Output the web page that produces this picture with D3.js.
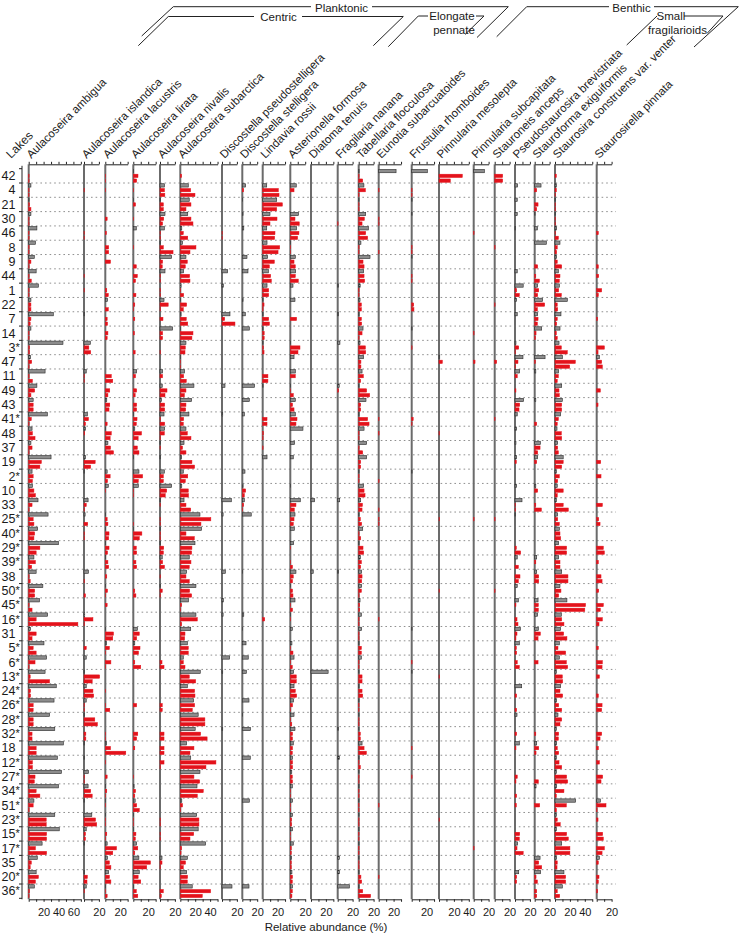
<!DOCTYPE html>
<html><head><meta charset="utf-8">
<script src="https://cdn.jsdelivr.net/npm/d3@7"></script>
<style>
html,body{margin:0;padding:0;background:#fff;overflow:hidden}
svg text{font-family:"Liberation Sans",Arial,Helvetica,sans-serif;fill:#1a1a1a}
</style>
</head><body>
<svg id="c" width="743" height="934"></svg>
<script>
// ---------------- DATA ----------------
const lakes = ["42","4","21","30","46","8","9","44","1","22","7","14","3*","47","11","49","43","41*","48","37",
  "19","2*","10","33","25*","40*","29*","39*","38","50*","45*","16*","31","5*","6*","13*","24*","26*","28*","32*",
  "18","12*","27*","34*","51*","23*","15*","17*","35","20*","36*"];
const taxa = ["Aulacoseira ambigua","Aulacoseira islandica","Aulacoseira lacustris","Aulacoseira lirata",
  "Aulacoseira nivalis","Aulacoseira subarctica","Discostella pseudostelligera","Discostella stelligera",
  "Lindavia rossii","Asterionella formosa","Diatoma tenuis","Fragilaria nanana","Tabellaria flocculosa",
  "Eunotia subarcuatoides","Frustulia rhomboides","Pinnularia mesolepta","Pinnularia subcapitata",
  "Stauroneis anceps","Pseudostaurosira brevistriata","Stauroforma exiguiformis",
  "Staurosira construens var. venter","Staurosirella pinnata"];
// axis maximum (%) of each taxon panel
const axisMax = [70,20,30,30,20,50,20,20,30,20,30,20,20,30,30,40,20,20,20,20,50,20];
// sample kinds inside each lake: first = grey bar, then two red bars
const sampleKinds = ["grey","red","red"];

// values: 51 lakes x 3 samples, lake order as in `lakes`
const aulAmbigua = [0,0.5,0.5, 3,0.5,0.5, 0.5,1,3, 3,0.5,0.5, 11,0.5,0.5, 9,0.5,0.5, 7.5,3,0.5, 10,0.5,3.5, 13,0.5,0.5, 3,3,3,
 33,3,2, 3,0.5,0.5, 46,1,1, 2.5,4,0.5, 22,0.5,5, 11,8,3, 6,6,6, 25,3.5,0.5, 4.5,5,8.5, 3,4.5,0.5,
 30,17,15, 4.5,6,5, 5,7,9, 12.5,4.5,0.5, 26,6,7, 12,8,7, 40,15,10, 7,9,4, 10,0.5,2, 19,8,8,
 14.5,0.5,4.5, 25.5,10,66, 2.5,10,4.5, 20.5,6,10, 24,8.5,0.5, 22,2,28, 37,2.5,2.5, 34,6,6, 28,6,6, 35,4.5,4.5,
 46.5,10,10, 38.5,5,5, 44,8.5,7.5, 40,10,15, 7,6,0.5, 35,23.5,23.5, 41,24,24, 18,9,24, 11.5,3.5,2, 10,13,9,
 7.5,1,0.5];
const aulIslandica = [0,0,0, 0,0.3,0, 0,0,0, 0,0,0, 0,0.3,0.3, 0,0,0, 0,0,0, 0,0.3,0, 0,0.3,0, 0,0,0,
 0.5,0,0, 0,0,0, 8.5,6.5,9, 0,0,0, 3,0.3,0.3, 0,0,0, 0,0,0, 4.5,6,2, 2,1,0, 0,0,0,
 2,15,9, 0.5,0,0, 0,0,0, 5.5,3,0.5, 1.5,0,5, 0,0.5,0.5, 0,0,0, 0,0,0, 6,0,0.5, 0,0,2,
 0,0,0, 1,12,0.5, 0,0,0, 0,3,0, 3,0,0, 0.5,21,11, 3,12,13, 3,0.5,0.5, 0.5,14.5,18, 0,2.5,2.5,
 0.5,0,0, 0.5,0,0, 6,0.5,0.5, 5.5,9,11, 0.5,0,0, 10.5,15.5,17, 3,2,2, 0.5,0,0, 0,0,0, 0.5,4.5,4,
 3,0.5,0];
const aulLacustris = [0,0.5,0.5, 0,0.5,0, 0,0,0, 0,2.5,0, 0,1.5,0, 0,4.5,4.5, 0,7,0, 0,0,0, 0,2,4, 3,0,4,
 0,2.5,3, 0,3.5,2.5, 0,0,0, 0,0,0, 0,8,10, 0,6,3.5, 2,6,5, 0,0,2.5, 0.5,8,6.5, 3.5,7,11,
 0,0,0, 2.5,6.5,3, 4,0.5,0, 0,0,0, 0.5,2.5,3.5, 0.5,5,4.5, 0.5,5,3, 0.5,3.5,4.5, 0,2,0, 0.5,3,0.5,
 0,2.5,0, 0,0,0, 0.5,11,10, 1.5,5.5,0.5, 0,7.5,0.5, 0,0,0, 0,0.5,0, 0,0.5,6, 0,0,0, 0,0.5,0.5,
 1.5,7,27.5, 0,0.5,0, 0,2.5,0, 0.5,2,0.5, 0.5,0.5,0, 0.5,0.5,0.5, 0,2,0.5, 2.5,15,10, 3,5.5,7.5, 4.5,5.5,7.5,
 0.5,0.5,2.5];
const aulLirata = [0.5,6.3,4.5, 0,0.5,0, 0.5,3,0, 0,0.5,0, 4,0,0, 0,0.5,0, 0,0,4, 0,5.4,3, 0,0,3.5, 0,2,0.5,
 0,2,0, 0,1.5,0, 0,0,2.5, 0,0,0, 4.5,3,0, 0,4.5,2.5, 0,4.5,4.5, 0.5,5,4, 2,11,6.5, 0,5.4,7.6,
 0.5,0,0, 7.6,12.5,6.7, 6.7,0.5,0.5, 0,0,0, 0,0,0.5, 0.5,11.5,8, 0,4,4.5, 0,3.5,4.5, 0,0,0, 0,2,3.5,
 0,0,0, 0,0,0, 5.4,8,4.5, 2,9,7, 0,2,10, 0,0,0, 0,0,0, 0,4.5,0, 0,0,0, 0,6,4.5,
 0,2,0, 0,0,0, 0,0.5,0, 1,3,2, 2.5,4.5,8, 0.5,0.5,0.5, 0.5,3.5,2.7, 4.5,6,2, 7.5,23,18, 8,6.5,10,
 0.5,4,6];
const aulNivalis = [0,0,0, 6,6,6.5, 0.5,4.5,4.5, 6.7,5,3.5, 5.8,0.5,0.5, 0.5,4.5,17.5, 15.6,3.5,3, 6.7,0.5,0.5, 0,0.5,0.5, 5.4,11,0.5,
 0,4,0, 17,3.5,3.5, 0,0,0.5, 0,0,0, 3.5,3.5,0, 3,9.4,6.7, 2,6.3,6.3, 5.4,0.5,6.3, 6.3,5.8,0.5, 0.5,0.5,0,
 0.5,0,0, 5.8,4.5,4.5, 15.6,9,7, 0.5,0.5,0, 0,0.5,0.5, 0.5,0.5,0.5, 0.5,5,4.5, 3,3.5,6, 0,0.5,0, 0.5,3,0.5,
 0,0,0, 0,0,0, 0,0,0, 0,0,0, 0,2.7,5.4, 0,0,0, 0,0,0, 0,3,3, 0,0,0, 0,5.4,5.4,
 0,5.4,5.4, 0,5.4,0.5, 0,0,0, 0,0,0, 0,0,0, 0,0.5,0.5, 0,0.5,0.5, 0,0,0, 2.7,2.7,0.5, 0,0,0,
 0,4.4,1.8];
const aulSubarctica = [0,1.8,0, 10.7,13.9,19.7, 12,14.3,7.6, 10,14.3,17, 2,4,10, 3,21,13, 7.6,9.4,6.7, 4.5,12.5,13, 1,0.5,4.5, 0.5,8.5,4,
 1,8,10, 0.5,17,15.6, 7.6,6.7,6.3, 0.5,0.5,0.5, 5.8,4.5,8, 18.3,7.6,5.4, 15.2,7.6,7.2, 11.6,4.5,4, 7.6,9.4,14.3, 5,3,7.6,
 1.8,15.6,19.2, 4,10,6.7, 2,10.7,11, 5,7.6,14, 26.4,41,27.7, 28.6,7.6,18.8, 19.7,15.6,15.2, 12,14.3,12, 8.5,7.6,12, 21,12.5,15.2,
 11,1.8,0.5, 21,22.8,1.8, 14,6.3,5.8, 9.4,10.7,10.7, 4,4,6.3, 26.8,12,20.6, 9.4,19.2,19.7, 17.9,19.2,16.1, 24,33,33, 20,27.3,36,
 8.5,18.3,13, 14,47.8,34.4, 26.4,18.3,26, 22.4,30.8,22.8, 2,3,0.5, 22,25,25, 24,18,13, 34,1.8,1, 9.4,7,4, 8.5,9.8,9.4,
 16,40.7,29.5];
const disPseudostelligera = [0,0,0, 0,0,0, 0,0,0, 0,0,0, 0,0.3,0.3, 0,0,0, 0,0,0, 7.6,0,0, 1.8,0,0, 0,0,0,
 10.7,3.6,17.4, 0,0,0, 0,0,0, 0,0,0, 0,0,0, 4,0,0, 0,0,0, 1,0,0, 0,0,0, 0,0,0,
 0,0,0, 0,0,0, 0,0,0, 12.5,0,0, 1.5,0,0, 0,0,0, 0,0,0, 0,0,0, 4.5,0,0, 0,0,0,
 1.8,0,0, 1.5,0,0, 0,0,0, 0,0,0, 10.3,0,0, 1,0,0, 0,0,0, 0,0,0, 0,0,0, 1,0,0,
 0,0,0, 0,0,0, 0,0,0, 0,0,0, 0,0,0, 0,0,0, 0,0,0, 0,0,0, 0,0,0, 0,0,0,
 13.4,0,0];
const disStelligera = [0,0,0, 4.5,1.8,0, 0.5,0,0, 1,0,0, 2,0,0, 0,0,0, 6.3,0,0, 7.6,0,0, 0,0,0, 1,0,0,
 4,0,0, 9.4,0,0, 0,0,0, 0,0,0, 0,0,0, 16.5,0,0, 9.4,0,0, 2.7,0,0, 0,0,0, 0,0,0,
 0,0,0, 3.6,0,0, 1,4.5,2.7, 2.7,1.8,0.5, 12,0,0, 0,0,0, 0,0,0, 0,0,0, 0.5,0,0, 0,0,0,
 0,0,0, 2,0,0, 0.5,0,0, 5,0,0, 8,0,0, 5.4,0,0, 0,0,0, 9,0,0, 0.5,0,0, 11,0,0,
 0,0,0, 10.7,0,0, 0,0,0, 0,0,0, 9.4,0,0, 0,0,0, 0,0,0, 0,0,0, 0,0,0, 0,0,0,
 9,0,0];
const linRossii = [0,0,0, 5.4,21,21.9, 18.8,26.4,18.8, 9.8,19.2,9.8, 5.4,16.5,16, 5.8,22.8,20.6, 6.7,15.6,9, 7.6,10.7,11.6, 5.8,8,8, 0.5,1.8,0.5,
 0.5,8,9, 0.5,2,2, 0.5,1,1.8, 0,0,0, 0,7,7, 0.5,0,0, 0,0,0, 0,5.8,5.8, 0,1,0.5, 0,0.5,0,
 5.8,0,0, 0,0,0, 0,0,0, 0,0,0, 0,0,0, 0,0,0, 0,0,0, 0,0,0, 0,0,0, 0,0,0,
 0,0,0, 0,2.7,0, 0,0,0, 0,0,0, 0,0,0, 0,0,0, 0,0,0, 0,0,0, 0,0,0, 0,0,0,
 0,0,0, 0,0,0, 0,0,0, 0,0,0, 0,0,0, 0,0,0, 0,0,0, 0,0,0, 0,0,0, 0,0,0,
 0,0,0];
const astFormosa = [0,0,0, 8,5,0, 0,0,0, 11,6.3,12, 8.5,11.6,9.8, 0.5,0.5,0.5, 6.7,5,6.7, 7.2,6.7,10.7, 3.6,0,0, 6.3,0,0,
 0,8.5,0, 0,0,0, 0.5,13,10.3, 5,0,0, 6.7,6.7,0, 0.5,0.5,4, 6.7,3,5, 6.7,9,7.6, 17,0,0, 5.8,0,0,
 4,0,0, 0,0,0, 0.5,0,0, 13.4,7.6,5.4, 6.3,5,4, 5.4,0,0, 4.5,0.5,0, 0,0.5,3, 7.6,4,3, 0.5,3,3.6,
 6.3,0.5,3, 0.5,0.5,0, 2.7,0,0, 2.2,0.5,3.6, 5,0.5,2.7, 4.5,8,8, 5,6.7,8.5, 4.5,3,0.5, 5,0.5,2, 6.3,3,3,
 4,3,2.7, 3,3,3, 2,2.7,3, 2.7,0.5,0.5, 3,0.5,0.5, 3,1.8,1.8, 3,0.5,0.5, 4,1.3,1.3, 1.8,1.3,1.3, 2.2,3,2.7,
 3,2.7,2.2];
const diaTenuis = [0,0,0, 0,0,0, 0,0,0, 0,0,0, 0,0,0, 0,0,0, 0,0,0, 0,0,0, 0,0,0, 0,0,0,
 0,0,0, 0,0,0, 0,0,0, 0,0,0, 0,0,0, 0,0,0, 0,0,0, 0,0,0, 0,0,0, 0,0,0,
 0,0,0, 0,0,0, 0,0,0, 4.9,0,0, 0,0,0, 0,0,0, 0,0,0, 0,0,0, 3,0,0, 0,0,0,
 0,0,0, 0,0,0, 0,0,0, 0,0,0, 0,0,0, 23,0,0, 0,0,0, 0,0,0, 0,0,0, 0,0,0,
 0,0,0, 0,0,0, 0,0,0, 0,0,0, 0,0,0, 0,0,0, 0,0,0, 0,0,0, 0,0,0, 0,0,0,
 0,0,0];
const fraNanana = [0,0,0, 0,0,0, 0,0,0, 0,0,0.5, 0,0,0, 0,0,0, 0,0,0, 0,0,0, 1.3,0,0, 0,0,0,
 1.3,0,0, 0,0,0, 3,0,0, 0,0,0, 0,0,0, 2,1.3,0, 0,0,0, 0,0,0, 0,0,0, 0,0,0,
 0,0,0, 0,0,0, 0,0,0, 2.7,0,0, 0,0,0, 0,0,0, 0,0,0, 0,0,0, 1.3,0,0, 0,0,0,
 0,0,0, 0,0,0, 0,0,0, 0,0,0, 0,0,0, 0,0,0, 0,0,0, 0,0,0, 0,0,0, 1.3,0,0,
 0,0,0, 2.2,0,0, 0,0,0, 0,0,0, 0,0,0, 0,0,0, 0,0,0, 0,0,0, 2.2,0,0, 2.2,0,0,
 15.7,0,0];
const tabFlocculosa = [0.5,0.5,5.4, 7,9,0.5, 0.5,0.5,0.5, 9.4,7.6,4.5, 13,9.4,12, 3,0.5,0.5, 15.2,5.8,7.2, 6.7,7.2,8, 2,0.5,0.5, 1.8,3.6,3.6,
 0.5,3.6,4, 5.8,4.5,0.5, 1.8,9,9.4, 6.7,3,3, 4.5,6.3,2.7, 0.5,10.7,14.7, 9.8,2.7,2.7, 0.5,12,13.9, 7.2,0.5,0.5, 10.7,0.5,5.4,
 10.7,2.7,2.7, 0.5,0.5,0.5, 6.7,7.2,8.5, 2.7,5,4.5, 0.5,2.2,4, 5.4,0.5,2.7, 0.5,5.8,6.7, 2.2,3.6,2.7, 4,4.5,4, 4,3.6,0.5,
 1.8,1.3,1.3, 3.6,0.5,0.5, 4,0.5,0.5, 0.5,3.6,3.6, 3.6,0.5,0.5, 0.5,4.5,4.5, 0.5,4.5,5.4, 0.5,0.5,0.5, 0.5,0.5,0.5, 0.5,2.2,2.2,
 4.5,7.2,10.3, 0.5,0.5,2.2, 0.5,0.5,0.5, 0.5,0.5,0.5, 0.5,0.5,0.5, 0.5,0.5,0.5, 0.5,0.5,0.5, 0.5,0.5,0.5, 0.5,0.5,0.5, 0.5,3,4,
 0.5,5.4,16];
const eunSubarcuatoides = [23.3,0,0, 0,0.5,0, 0,0,0, 0,0.5,0.5, 0,0,0, 0,0,0.5, 0,0,0, 0,0,0, 0,0,0, 0,0,0,
 0,0,0, 0,0,0, 0,0,0, 0,0,0, 0,0,0, 0,0,0, 0,0,0, 0,0.5,0, 0,0.5,0, 0,0,0,
 0,0,0, 0,0,0.5, 0,0,0, 0,0,0.5, 0,0.5,0.5, 0,0,0, 0,0,0, 0,0,0, 0,0,0, 0,0,0,
 0,0,0, 0,0.5,0, 0,0,0, 0,0,0, 0,0,0, 0,0,0, 0,0,0, 0,0,0, 0,0,0, 0,0,0,
 0,0,0, 0,0,0, 0,0,0, 0,0,0, 0,0.5,0, 0,0,0, 0,0,0, 0,0,0, 0,0,0, 0,0.5,0,
 0,0,0];
const fruRhomboides = [21,0,0, 0,0.5,0.5, 0.5,0,0, 0.5,0,0, 0,0,0, 0,0.5,0.5, 0.5,0,0, 0,0.5,0.5, 0,0,0, 0,2.7,3,
 0,0,0, 0.5,0,0, 0,0.5,0, 0,0,0, 0,0,0, 0,0,0, 0,0,0, 0,2,0.5, 0,0,0, 0,0,0,
 0,0,0, 0.5,0,0, 0,0,0, 0,0,0, 0,0,0, 0,0,0, 0,0,0, 0,0,0, 0,0,0, 0,0,0,
 0,0,0, 0,0,0, 0.5,0,0, 0,0,0, 0,0.5,0, 0.5,0,0, 0,0,0, 0,0,0, 0,0,0, 0,0,0,
 0,0.5,0, 0,0,0, 0,0.5,0, 0,0,0, 0,0,0, 0,0,0, 0,0,0, 0,0,0, 0,0,0, 0,0,0,
 0,0,0];
const pinMesolepta = [0,31.3,15.2, 0,0,0, 0,0,0, 0,0,0, 0,0,0, 0,0,0, 0,0,0, 0,0,0, 0,0,0, 0,0,0,
 0,0,0, 0,0,0, 0,0,0, 1,4.5,0, 0,0,0, 0,0,0, 0,0,0, 0,0,0, 0,0.5,0, 0,0,0,
 0,0,0, 0,0,0, 0,0,0, 0,0,0, 0,0.5,0, 0,0,0, 0,0,0, 0,0,0, 0,0,0, 0,0.5,0,
 0,0,0, 0,0,0, 0,0,0, 0,0,0, 0,0,0, 0,0.5,0, 0,0,0, 0,0,0, 0,0,0, 0,0,0,
 0,0,0, 0,0,0, 0,0,0, 0,0,0, 0,0,0, 0,0.5,0, 0,0,0, 0,0,0, 0,0,0, 0,0,0,
 0,0,0];
const pinSubcapitata = [14.3,0,0, 0,0,0, 0,0,0, 0,0,0, 0,0.5,0, 0,0,0, 0,0,0, 0,0,0, 0,0,0, 0,0,0,
 0,0,0, 0,0.5,0, 0,0,0, 0,1.8,0, 0,0,0, 0,0,0, 0,0,0, 0,0,0, 0,0,0, 0,0,0,
 0,0,0, 0,0,0, 0,0,0, 0,0,0, 0,0.5,0, 0,0,0, 0,0,0, 0,0,0, 0,0,0, 0,0,0,
 0,0,0, 0,0,0, 0,0,0, 0,0,0, 0,0,0, 0,0,0, 0,0,0, 0,0,0, 0,0,0, 0,0,0,
 0,0,0, 0,0,0, 0,0,0, 0,0,0, 0,0,0, 0,0,0, 0,0,0, 0,0.5,0, 0,0,0, 0,0,0,
 0,0,0];
const stanAnceps = [0,10.7,10.7, 0,0,0, 0,0,0, 0,0,0, 0,0,0, 0,0.5,0, 0,0,0, 0,0,0, 0,0,0, 0,0.5,0,
 0,0,0, 0,0,0, 0,0,0, 0,2.7,0, 0,0,0, 0,0,0, 0,0,0, 0,0.5,0, 0,0,0, 0,0,0,
 0,0,0, 0,0,0, 0,0,0, 0,0,0, 0,0.5,0, 0,0,0, 0,0,0, 0,0,0, 0,0,0, 0,0.5,0,
 0,0,0, 0,0,0, 0,0,0, 0,0,0, 0,0,0, 0,0,0, 0,0,0, 0,0,0, 0,0,0, 0,0,0,
 0,0,0, 0,0,0, 0,0,0, 0,0,0, 0,0,0, 0,0,0, 0,0,0, 0,0,0, 0,0,0, 0,0,0,
 0,0,0];
const psBrevistriata = [0,0,0, 3.6,0,0, 3,0,0, 3,0,0, 0.5,0,0, 0,0,0, 0,0,0, 3,0,0, 11,2.2,5.8, 2.2,0,0,
 3,0,0, 0,0,0, 1.3,5,0.5, 10.7,4,0.5, 6.3,3,0, 0,1.3,0, 11.6,6.3,5.4, 3,0,0, 2.2,0,0, 1.3,0,0,
 2.2,1.8,0, 0,0,0, 2.2,0,0, 9.4,0.5,0.5, 0.5,0,0, 0,0,0, 0,1.8,7.6, 3,0,4.5, 0,6.7,4.5, 3,0,0,
 4.5,1.3,0, 0,2.7,4, 7.2,2.7,1.3, 5.8,1.8,2.2, 0,3,5.8, 0,0,0, 9,0,2.2, 0,0,2.2, 2.7,0,0, 0,2.2,0,
 5.8,1.3,0, 0,0,0, 0,3,1.3, 0,0,2.2, 0,1.8,0, 0,0,0, 0,6.3,5.8, 3.6,2.7,11, 0,0,0, 5,2.2,2.2,
 0,0,0];
const stExiguiformis = [0,0,0, 8.5,2.7,0, 0,4.5,2.7, 0.5,0,0, 3.6,0,0, 15.6,0,0, 0,0,4, 0,1.5,6.3, 4,5.4,4, 10.7,13.4,3.6,
 4,4.5,3.6, 9.4,1.8,1, 0,0,0, 13.9,1,0, 1.5,0,0, 0,0,0, 1.5,0,0, 0,0,2.7, 0,0,0, 7.6,7.2,4,
 4,2.7,0, 0,0,0, 1.5,4,0, 0,1.5,9, 0,0,0, 0,0,0, 0,0,0, 2.7,1.5,0, 2.7,5.4,5.4, 0,0,0,
 4.5,4.9,4.9, 4,0,0, 4.9,7.6,4.5, 0,0,0, 0,4.5,0, 0,0,0, 0,0,0, 0,0,0, 0,0,0, 0,1.5,0,
 2.7,5.4,1.8, 0,0,0, 0,0,4.9, 1.8,0,0, 0,6.7,0, 0,0,0, 0,0,0, 0,0,0, 7.2,5.4,9.4, 8,1.8,3.6,
 0,2.7,2.7];
const stConstruens = [0,1.8,0, 1.8,1.8,0.5, 0.5,0.5,0.5, 0.5,0.5,0.5, 2.2,0.5,4.5, 6.7,3,2.2, 2.2,3,9, 4.5,6.7,5.8, 5.8,4.9,8.5, 16.5,3,3.6,
 8,3,2.2, 6.7,1.8,3, 5.4,8.5,16.5, 10,27.3,19.7, 4.9,4.5,3, 9,5.4,5.8, 9.8,9,9, 7.6,4.5,3, 2.7,8.5,9, 3.6,3.6,4.5,
 11,11,9, 1.8,5.8,3.6, 3,11,3, 1.8,11,17.9, 3.6,3.6,5.8, 5.8,6.7,7.6, 4.9,15.6,15.6, 4.9,6.7,6.7, 9,17.4,17.4, 6.7,8,4.9,
 16,41,40, 8.5,9,12, 7.6,11.6,16, 5.8,4,14.3, 5.8,15.2,17, 1.8,9.8,10.3, 7.6,6.7,10.3, 2.2,4.9,9, 4,9,6.7, 1.8,4.9,4.5,
 2.2,3,4.9, 1.8,5.4,9, 1.8,15.6,17, 2.2,12,1.8, 27.7,15.2,2, 1.8,3,7, 1.8,15.6,17.9, 9,20,20, 2.2,3,2.7, 12,14.3,14.3,
 9.8,3,6.3];
const stPinnata = [0,0,0, 0,0,0, 0,0,0, 0,0,0, 0,2.2,0, 0,0,0, 0,0,2.2, 0,2.7,0, 0,6.7,2.2, 0,0,0,
 0,1.3,0, 0,0,0, 0,10.3,1.8, 3.6,6.7,7.6, 0,0,0, 0,4.9,0, 0,1.8,0, 0,0,0, 0,0,0, 0,0,0,
 0,5.4,0, 0,5.8,0, 0,0,0, 0,7.6,0, 0,2.7,4.5, 0,0,0, 0,8.9,10.3, 0,2.2,0, 0,5.8,7.2, 0,2.7,0,
 0,8.9,4.9, 0,7.6,3.1, 0,0,0, 0,2.2,0, 0,7.6,7.2, 0,3.6,0, 0,0,2.2, 0,7.2,6.7, 0,0,0, 0,6.7,4.5,
 0,2.2,0, 0,3.6,0, 0,8,5.8, 0,0,0, 4.9,12.5,0.5, 0,1.8,0, 0,8,8.9, 0,10.3,7.2, 3.6,2.2,0, 0,3.1,2.2,
 0,1.3,0];

const values = [aulAmbigua, aulIslandica, aulLacustris, aulLirata, aulNivalis, aulSubarctica,
  disPseudostelligera, disStelligera, linRossii, astFormosa, diaTenuis, fraNanana, tabFlocculosa,
  eunSubarcuatoides, fruRhomboides, pinMesolepta, pinSubcapitata, stanAnceps, psBrevistriata,
  stExiguiformis, stConstruens, stPinnata];

// group headers
const groups = [
  {lines:["Planktonic"], pos:[[341.5,11.5]], paths:[[[141.7,36],[173.3,6.7],[311,6.7]],[[372,6.7],[508.3,6.7],[477,37.5]]]},
  {lines:["Centric"], pos:[[278.5,21]], paths:[[[138.3,45.7],[168.3,16.5],[254,16.5]],[[302,16.5],[403.3,16.5],[373.3,45.7]]]},
  {lines:["Elongate","pennate"], pos:[[452,20],[454,33.5]], paths:[[[388.3,46.7],[418.3,16],[428,16]],[[476,16],[484,16],[465,34.5]]]},
  {lines:["Benthic"], pos:[[631.5,11.5]], paths:[[[496.7,36.7],[526.7,6.7],[609,6.7]],[[654,6.7],[738.3,6.7],[694,47]]]},
  {lines:["Small","fragilarioids"], pos:[[671,20],[677.5,33.5]], paths:[[[626.7,45],[657,16]],[[684,16],[723,16],[707,33.5]]]}
];

// ---------------- LAYOUT ----------------
const k = 0.745;                 // px per percent
const panelLeft = [28.7,84,105.3,133.3,160,180.3,222,242.3,262.7,290.3,311,337.7,358.7,378.7,411.7,439,473.7,494.7,515,534.7,555,596.7];
const yTopAxis = 164.3, yBotAxis = 899.3;
const plotTop = 168.7, plotBottom = 168.7 + 51*14.306;

const svg = d3.select("#c");
const y = d3.scaleBand().domain(d3.range(lakes.length)).range([plotTop, plotBottom]);
const ySub = d3.scaleBand().domain([0,1,2]).range([0, y.bandwidth()]).paddingInner(0.3).paddingOuter(0.15);

// dotted separators
svg.append("g").selectAll("line").data(d3.range(1, lakes.length)).join("line")
  .attr("x1", 22).attr("x2", 616)
  .attr("y1", i => y(i)).attr("y2", i => y(i))
  .attr("stroke", "#8f8f8f").attr("stroke-width", 1).attr("stroke-dasharray", "1.6,3");

// lakes axis
const la = svg.append("g");
la.append("line").attr("x1",22).attr("x2",22).attr("y1",yTopAxis+1.5).attr("y2",yBotAxis)
  .attr("stroke","#222").attr("stroke-width",1);
la.selectAll("line.t").data(d3.range(0, lakes.length+1)).join("line").attr("class","t")
  .attr("x1",19).attr("x2",22)
  .attr("y1", i => i < lakes.length ? y(i) : plotBottom).attr("y2", i => i < lakes.length ? y(i) : plotBottom)
  .attr("stroke","#222").attr("stroke-width",1);
// lake number right-aligned, asterisk hanging to the right
la.selectAll("text.n").data(lakes).join("text").attr("class","n")
  .attr("x",15.5).attr("y",(d,i)=>y(i)+y.bandwidth()/2+4.3)
  .attr("text-anchor","end").attr("font-size","12.5px").text(d=>d.replace("*",""));
la.selectAll("text.s").data(lakes.map((d,i)=>({d,i})).filter(o=>o.d.includes("*"))).join("text").attr("class","s")
  .attr("x",15.6).attr("y",o=>y(o.i)+y.bandwidth()/2+3.3)
  .attr("font-size","11px").text("*");
svg.append("text").attr("transform","translate(11,159) rotate(-45)")
  .attr("font-size","12px").text("Lakes");

// panels
taxa.forEach((name, p) => {
  const x0 = panelLeft[p];
  const x = d3.scaleLinear().domain([0, axisMax[p]]).range([x0, x0 + axisMax[p]*k]);
  const g = svg.append("g");
  g.append("line").attr("x1",x0).attr("x2",x0).attr("y1",yTopAxis).attr("y2",yBotAxis)
    .attr("stroke","#6b6b6b").attr("stroke-width",2);
  const rows = values[p].map((v,j)=>({v, lake: Math.floor(j/3), s: j%3})).filter(d=>d.v>0);
  g.selectAll("rect").data(rows).join("rect")
    .attr("x", x(0))
    .attr("y", d => y(d.lake) + ySub(d.s))
    .attr("width", d => x(d.v) - x(0))
    .attr("height", ySub.bandwidth())
    .attr("fill", d => sampleKinds[d.s] === "grey" ? "#8c8c8c" : "#e4121b")
    .attr("stroke", d => sampleKinds[d.s] === "grey" ? "#2a2a2a" : "#e4121b")
    .attr("stroke-width", d => sampleKinds[d.s] === "grey" ? 0.6 : 0.5);
  const ticks = d3.range(0, axisMax[p] + 0.001, 10);
  const top = g.append("g").attr("transform",`translate(0,${yTopAxis})`)
    .call(d3.axisTop(x).tickValues(ticks).tickSize(2.5).tickSizeOuter(0).tickFormat(""));
  const bot = g.append("g").attr("transform",`translate(0,${yBotAxis})`)
    .call(d3.axisBottom(x).tickValues(ticks).tickSize(2.5).tickSizeOuter(0).tickPadding(6.5)
      .tickFormat(d => (d > 0 && d % 20 === 0) ? d : ""));
  [top, bot].forEach(a => {
    a.select(".domain").attr("stroke","#222").attr("stroke-width",1);
    a.selectAll(".tick line").attr("stroke","#222");
    a.selectAll("text").attr("font-size","11px").attr("font-family","'Liberation Sans',Arial,sans-serif").attr("fill","#1a1a1a");
  });
  svg.append("text").attr("transform",`translate(${x0+2.5},159) rotate(-45)`)
    .attr("font-size","11.5px").text(name);
});

// x title
svg.append("text").attr("x",326).attr("y",931).attr("text-anchor","middle")
  .attr("font-size","11.5px").text("Relative abundance (%)");

// group headers
const line = d3.line();
groups.forEach(gr => {
  gr.paths.forEach(pts => svg.append("path").attr("d", line(pts)).attr("fill","none")
    .attr("stroke","#222").attr("stroke-width",1));
  gr.lines.forEach((t,i) => svg.append("text").attr("x",gr.pos[i][0]).attr("y",gr.pos[i][1])
    .attr("text-anchor","middle").attr("font-size","11.5px").text(t));
});
</script>
</body></html>
